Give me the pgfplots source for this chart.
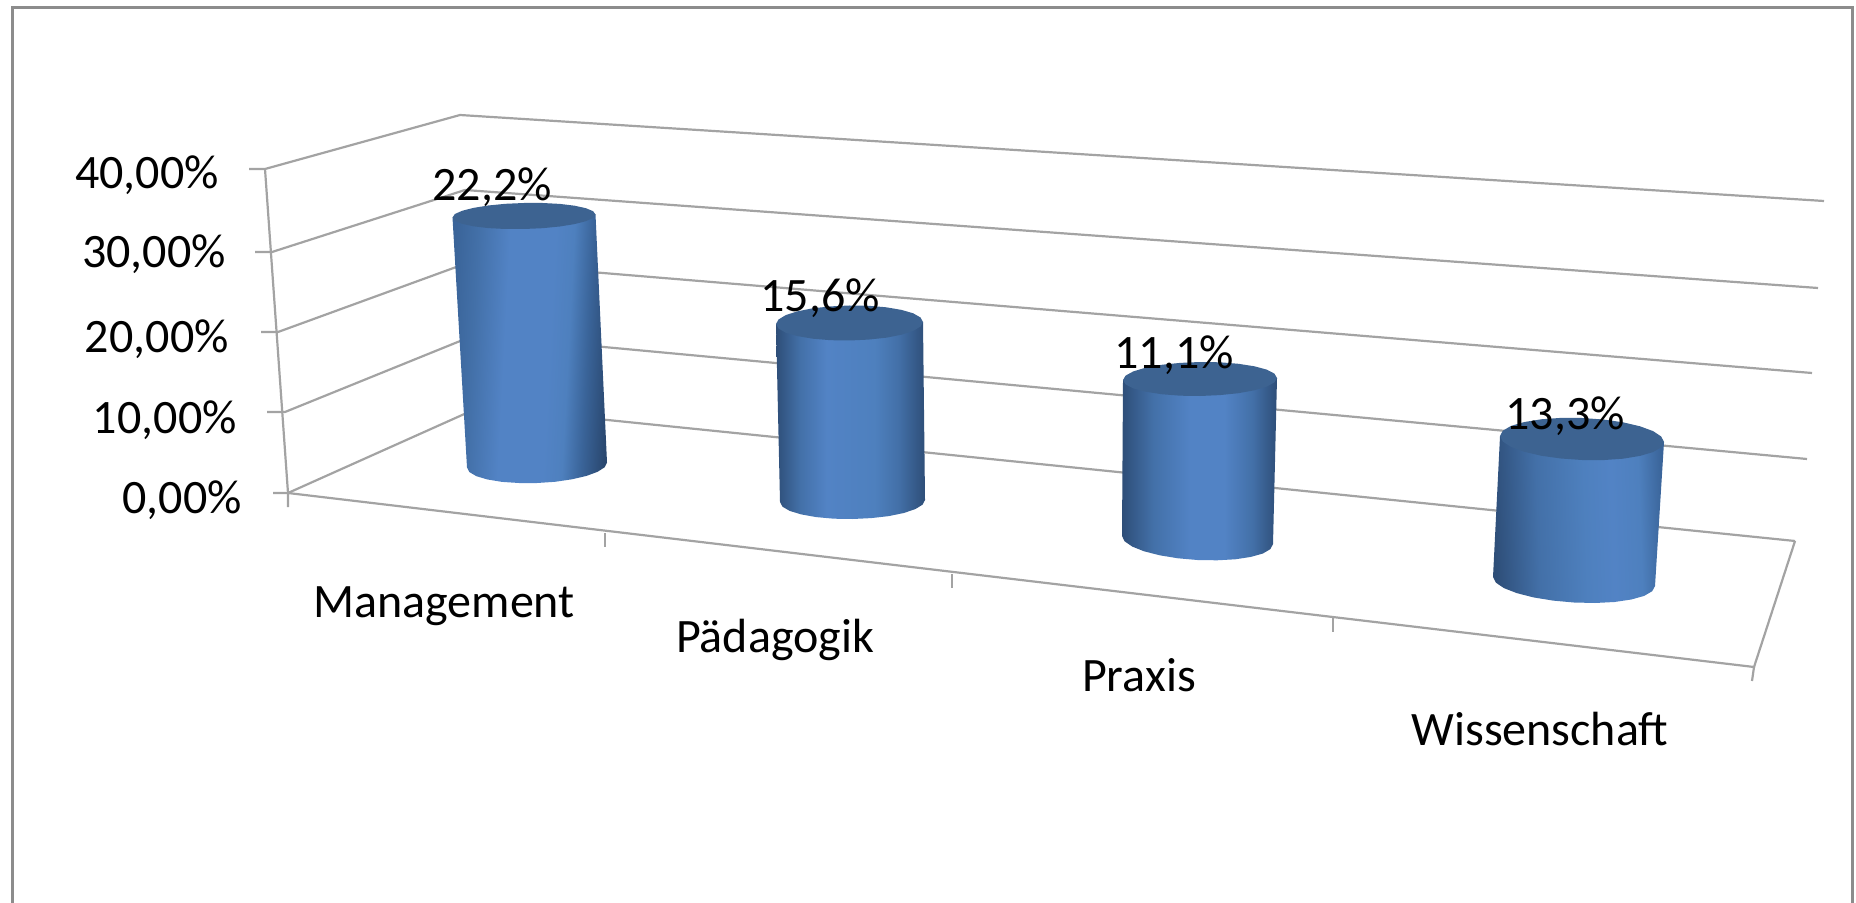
\documentclass[border=0pt]{standalone}
\usepackage{pgfplots}
\pgfplotsset{compat=1.18}
\usepackage{fontspec}
\setmainfont{Carlito}
\definecolor{gridg}{HTML}{A3A3A3}
\definecolor{frameg}{HTML}{8C8C8C}
\definecolor{captop}{HTML}{3D6391}
\definecolor{cD}{HTML}{2A4870}
\definecolor{cE}{HTML}{2E4E78}
\definecolor{cF}{HTML}{3A6499}
\definecolor{cG}{HTML}{4370A8}
\definecolor{cH}{HTML}{5283C5}
\definecolor{cI}{HTML}{4E80BE}
\pgfdeclarehorizontalshading{cylA}{100bp}{color(0bp)=(cF);color(25bp)=(cF);color(32bp)=(cG);color(42bp)=(cH);color(56bp)=(cH);color(62bp)=(cI);color(68bp)=(cF);color(75bp)=(cD);color(100bp)=(cD)}
\pgfdeclarehorizontalshading{cylB}{100bp}{color(0bp)=(cE);color(25bp)=(cE);color(33bp)=(cG);color(42bp)=(cH);color(58bp)=(cI);color(66bp)=(cG);color(75bp)=(cE);color(100bp)=(cE)}
\pgfdeclarehorizontalshading{cylC}{100bp}{color(0bp)=(cE);color(25bp)=(cE);color(35bp)=(cG);color(47bp)=(cH);color(58bp)=(cH);color(67bp)=(cG);color(75bp)=(cE);color(100bp)=(cE)}
\pgfdeclarehorizontalshading{cylD}{100bp}{color(0bp)=(cE);color(25bp)=(cE);color(38bp)=(cG);color(52bp)=(cI);color(60bp)=(cH);color(68bp)=(cI);color(75bp)=(cF);color(100bp)=(cF)}
\begin{document}
\begin{tikzpicture}
\useasboundingbox (0,0) rectangle (928pt,451.5pt);
\begin{axis}[
  at={(0,0)}, anchor=south west,
  scale only axis, width=928pt, height=451.5pt,
  xmin=0, xmax=1856, ymin=0, ymax=903, y dir=reverse,
  axis lines=none, clip=false,
  every axis plot/.append style={no markers},
]
% chart frame
\addplot[frameg, line width=1.5pt] coordinates {(12,903)(12,8)(1852,8)(1852,903)};
% walls and gridlines (40, 30, 20, 10, 0 %)
\addplot[gridg, line width=1.1pt] coordinates {(249,169)(265,169)(460,115)(1824,201)};
\addplot[gridg, line width=1.1pt] coordinates {(255,252)(272,252)(465,190)(1818,288)};
\addplot[gridg, line width=1.1pt] coordinates {(261,332)(278,332)(470,262)(1812,373)};
\addplot[gridg, line width=1.1pt] coordinates {(267,412)(285,412)(475,335)(1807,459)};
\addplot[gridg, line width=1.1pt] coordinates {(273,493)(288,493)(480,407)(1795,541)};
% left edge
\addplot[gridg, line width=1.1pt] coordinates {(265,169)(288,493)(288,507)};
% floor and category ticks
\addplot[gridg, line width=1.1pt] coordinates {(288,493)(1754,667)(1795,541)};
\addplot[gridg, line width=0.7pt] coordinates {(605,533)(605,547)};
\addplot[gridg, line width=0.7pt] coordinates {(952,574)(952,588)};
\addplot[gridg, line width=0.7pt] coordinates {(1333,618)(1333,632)};
\addplot[gridg, line width=1.1pt] coordinates {(1754,667)(1752,681)};
% Management
\addplot[draw=none, shading=cylA, shading angle=-3] coordinates {(452.5,217.5)(467,467.5)(469.4,472.1)(476.4,476.2)(487.5,479.5)(502,481.9)(518.9,483)(537,483)(555.1,481.8)(572,479.3)(586.5,475.9)(597.6,471.8)(604.6,467.3)(607,462.5)(595.5,214.5)} -- cycle;
\addplot[draw=none, fill=captop] coordinates {(595.5,214.5)(593.1,218)(585.9,221.2)(574.6,224.1)(559.8,226.5)(542.5,228.2)(524,229)(505.5,229)(488.2,228.1)(473.4,226.3)(462.1,223.8)(454.9,220.8)(452.5,217.5)(454.9,214)(462.1,210.8)(473.4,207.9)(488.2,205.5)(505.5,203.8)(524,203)(542.5,203)(559.8,203.9)(574.6,205.7)(585.9,208.2)(593.1,211.2)} -- cycle;
% Paedagogik
\addplot[draw=none, shading=cylB] coordinates {(776,324)(780,502)(782.5,506.7)(789.7,510.9)(801.2,514.4)(816.2,517.1)(833.7,518.7)(852.5,519)(871.3,518.1)(888.8,516.1)(903.8,513)(915.3,509.1)(922.5,504.7)(925,500)(923,322)} -- cycle;
\addplot[draw=none, fill=captop] coordinates {(923,322)(920.5,326.5)(913.2,330.9)(901.5,334.7)(886.3,337.7)(868.5,339.6)(849.5,340.5)(830.5,340.2)(812.7,338.7)(797.5,336.1)(785.8,332.7)(778.5,328.5)(776,324)(778.5,319.5)(785.8,315.1)(797.5,311.3)(812.7,308.3)(830.5,306.4)(849.5,305.5)(868.5,305.8)(886.3,307.3)(901.5,309.9)(913.2,313.3)(920.5,317.5)} -- cycle;
% Praxis
\addplot[draw=none, shading=cylC] coordinates {(1123,380)(1122,536)(1124.6,541.3)(1132.1,546.5)(1144.1,551.3)(1159.7,555.3)(1178,558.3)(1197.5,560)(1217,560.3)(1235.3,559.3)(1250.9,556.9)(1262.9,553.5)(1270.4,549.1)(1273,544)(1277,378)} -- cycle;
\addplot[draw=none, fill=captop] coordinates {(1277,378)(1274.4,382.4)(1266.7,386.6)(1254.4,390.3)(1238.5,393.2)(1219.9,395.1)(1200,396)(1180.1,395.7)(1161.5,394.2)(1145.6,391.7)(1133.3,388.4)(1125.6,384.4)(1123,380)(1125.6,375.6)(1133.3,371.4)(1145.6,367.7)(1161.5,364.8)(1180.1,362.9)(1200,362)(1219.9,362.3)(1238.5,363.8)(1254.4,366.3)(1266.7,369.6)(1274.4,373.6)} -- cycle;
% Wissenschaft
\addplot[draw=none, shading=cylD, shading angle=2] coordinates {(1500,436)(1493,577)(1495.8,582.6)(1503.9,588.1)(1516.7,593.1)(1533.5,597.4)(1553,600.6)(1574,602.5)(1595,603)(1614.5,602)(1631.3,599.5)(1644.1,595.9)(1652.2,591.2)(1655,586)(1664,442)} -- cycle;
\addplot[draw=none, fill=captop] coordinates {(1664,442)(1661.2,447.3)(1653,452.1)(1640,455.9)(1623,458.7)(1603.2,460.1)(1582,460)(1560.8,458.5)(1541,455.7)(1524,451.7)(1511,446.9)(1502.8,441.5)(1500,436)(1502.8,430.7)(1511,425.9)(1524,422.1)(1541,419.3)(1560.8,417.9)(1582,418)(1603.2,419.5)(1623,422.3)(1640,426.3)(1653,431.1)(1661.2,436.5)} -- cycle;
% texts
\begin{scope}[every node/.style={font=\fontsize{24}{29}\selectfont, inner sep=0pt, text=black}]
\node[anchor=east] at (axis cs:219,175) {40,00\%};
\node[anchor=east] at (axis cs:226,254) {30,00\%};
\node[anchor=east] at (axis cs:229,339) {20,00\%};
\node[anchor=east] at (axis cs:237,420) {10,00\%};
\node[anchor=east] at (axis cs:242,500) {0,00\%};
\node at (axis cs:492,187) {22,2\%};
\node at (axis cs:820,298) {15,6\%};
\node at (axis cs:1174,355) {11,1\%};
\node at (axis cs:1565,416) {13,3\%};
\node at (axis cs:444,606) {Management};
\node at (axis cs:775,640) {Pädagogik};
\node at (axis cs:1139,675) {Praxis};
\node at (axis cs:1540,729) {Wissenschaft};
\end{scope}
\end{axis}
\end{tikzpicture}
\end{document}
